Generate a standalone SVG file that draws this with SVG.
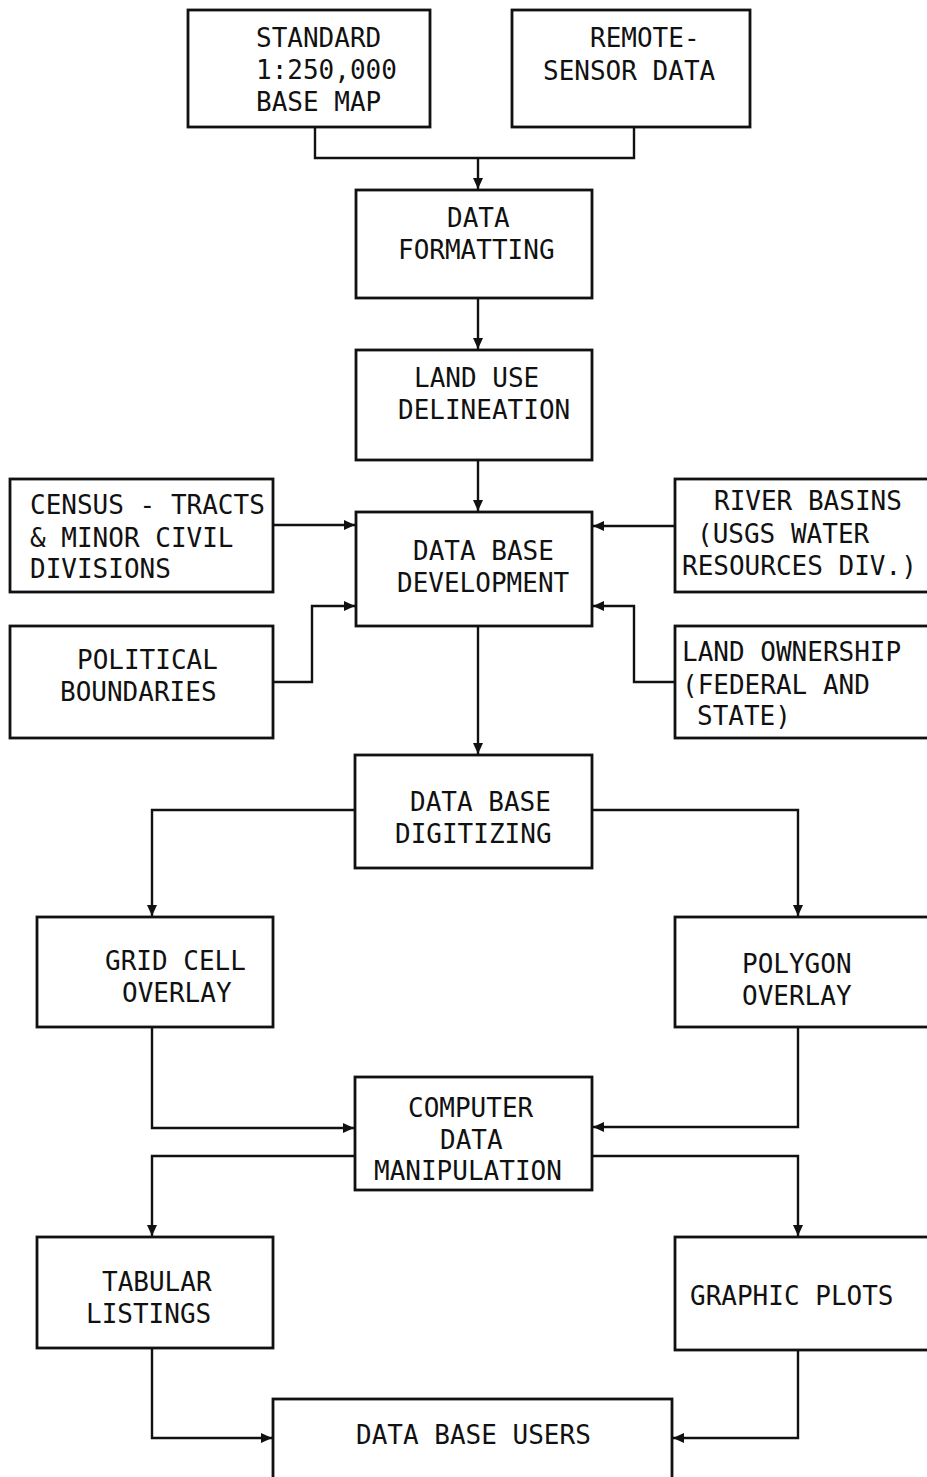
<svg xmlns="http://www.w3.org/2000/svg" width="927" height="1477" viewBox="0 0 927 1477">
<style>
.box{fill:none;stroke:#111;stroke-width:2.8}
.ln{fill:none;stroke:#111;stroke-width:2.4}
text{font-family:"DejaVu Sans Mono","Liberation Mono",monospace;font-size:26px;fill:#111}
</style>
<defs>
<marker id="ah" markerUnits="userSpaceOnUse" markerWidth="12" markerHeight="10" refX="11" refY="5" orient="auto">
<path d="M0,0 L11,5 L0,10 Z" fill="#111"/>
</marker>
</defs>
<rect width="927" height="1477" fill="#fff"/>
<g id="connectors">
<path class="ln" d="M315,127 V158 H634 V127"/>
<path class="ln" d="M478,158 V189" marker-end="url(#ah)"/>
<path class="ln" d="M478,298 V349" marker-end="url(#ah)"/>
<path class="ln" d="M478,460 V511" marker-end="url(#ah)"/>
<path class="ln" d="M273,525 H355" marker-end="url(#ah)"/>
<path class="ln" d="M273,682 H312 V606 H355" marker-end="url(#ah)"/>
<path class="ln" d="M675,526 H593" marker-end="url(#ah)"/>
<path class="ln" d="M675,682 H634 V606 H593" marker-end="url(#ah)"/>
<path class="ln" d="M478,626 V754" marker-end="url(#ah)"/>
<path class="ln" d="M355,810 H152 V916" marker-end="url(#ah)"/>
<path class="ln" d="M592,810 H798 V916" marker-end="url(#ah)"/>
<path class="ln" d="M152,1027 V1128 H354" marker-end="url(#ah)"/>
<path class="ln" d="M798,1027 V1127 H593" marker-end="url(#ah)"/>
<path class="ln" d="M355,1156 H152 V1236" marker-end="url(#ah)"/>
<path class="ln" d="M592,1156 H798 V1236" marker-end="url(#ah)"/>
<path class="ln" d="M152,1348 V1438 H272" marker-end="url(#ah)"/>
<path class="ln" d="M798,1350 V1438 H673" marker-end="url(#ah)"/>
</g>
<g id="n-standard"><rect class="box" x="188" y="10" width="242" height="117"/>
<text x="256" y="47">STANDARD</text><text x="256" y="79">1:250,000</text><text x="256" y="111">BASE MAP</text></g>
<g id="n-remote"><rect class="box" x="512" y="10" width="238" height="117"/>
<text x="590" y="47">REMOTE-</text><text x="543" y="80">SENSOR DATA</text></g>
<g id="n-formatting"><rect class="box" x="356" y="190" width="236" height="108"/>
<text x="447" y="227">DATA</text><text x="398" y="259">FORMATTING</text></g>
<g id="n-landuse"><rect class="box" x="356" y="350" width="236" height="110"/>
<text x="414" y="387">LAND USE</text><text x="398" y="419">DELINEATION</text></g>
<g id="n-development"><rect class="box" x="356" y="512" width="236" height="114"/>
<text x="413" y="560">DATA BASE</text><text x="397" y="592">DEVELOPMENT</text></g>
<g id="n-census"><rect class="box" x="10" y="479" width="263" height="113"/>
<text x="30" y="514">CENSUS - TRACTS</text><text x="30" y="547">&amp; MINOR CIVIL</text><text x="30" y="578">DIVISIONS</text></g>
<g id="n-political"><rect class="box" x="10" y="626" width="263" height="112"/>
<text x="77" y="669">POLITICAL</text><text x="60" y="701">BOUNDARIES</text></g>
<g id="n-river"><rect class="box" x="675" y="479" width="262" height="113"/>
<text x="714" y="510">RIVER BASINS</text><text x="697" y="543">(USGS WATER</text><text x="682" y="575">RESOURCES DIV.)</text></g>
<g id="n-ownership"><rect class="box" x="675" y="626" width="262" height="112"/>
<text x="682" y="661">LAND OWNERSHIP</text><text x="682" y="694">(FEDERAL AND</text><text x="697" y="725">STATE)</text></g>
<g id="n-digitizing"><rect class="box" x="355" y="755" width="237" height="113"/>
<text x="410" y="811">DATA BASE</text><text x="395" y="843">DIGITIZING</text></g>
<g id="n-grid"><rect class="box" x="37" y="917" width="236" height="110"/>
<text x="105" y="970">GRID CELL</text><text x="122" y="1002">OVERLAY</text></g>
<g id="n-polygon"><rect class="box" x="675" y="917" width="262" height="110"/>
<text x="742" y="973">POLYGON</text><text x="742" y="1005">OVERLAY</text></g>
<g id="n-computer"><rect class="box" x="355" y="1077" width="237" height="113"/>
<text x="408" y="1117">COMPUTER</text><text x="440" y="1149">DATA</text><text x="374" y="1180">MANIPULATION</text></g>
<g id="n-tabular"><rect class="box" x="37" y="1237" width="236" height="111"/>
<text x="102" y="1291">TABULAR</text><text x="86" y="1323">LISTINGS</text></g>
<g id="n-graphic"><rect class="box" x="675" y="1237" width="262" height="113"/>
<text x="690" y="1305">GRAPHIC PLOTS</text></g>
<g id="n-users"><rect class="box" x="273" y="1399" width="399" height="100"/>
<text x="356" y="1444">DATA BASE USERS</text></g>
</svg>
